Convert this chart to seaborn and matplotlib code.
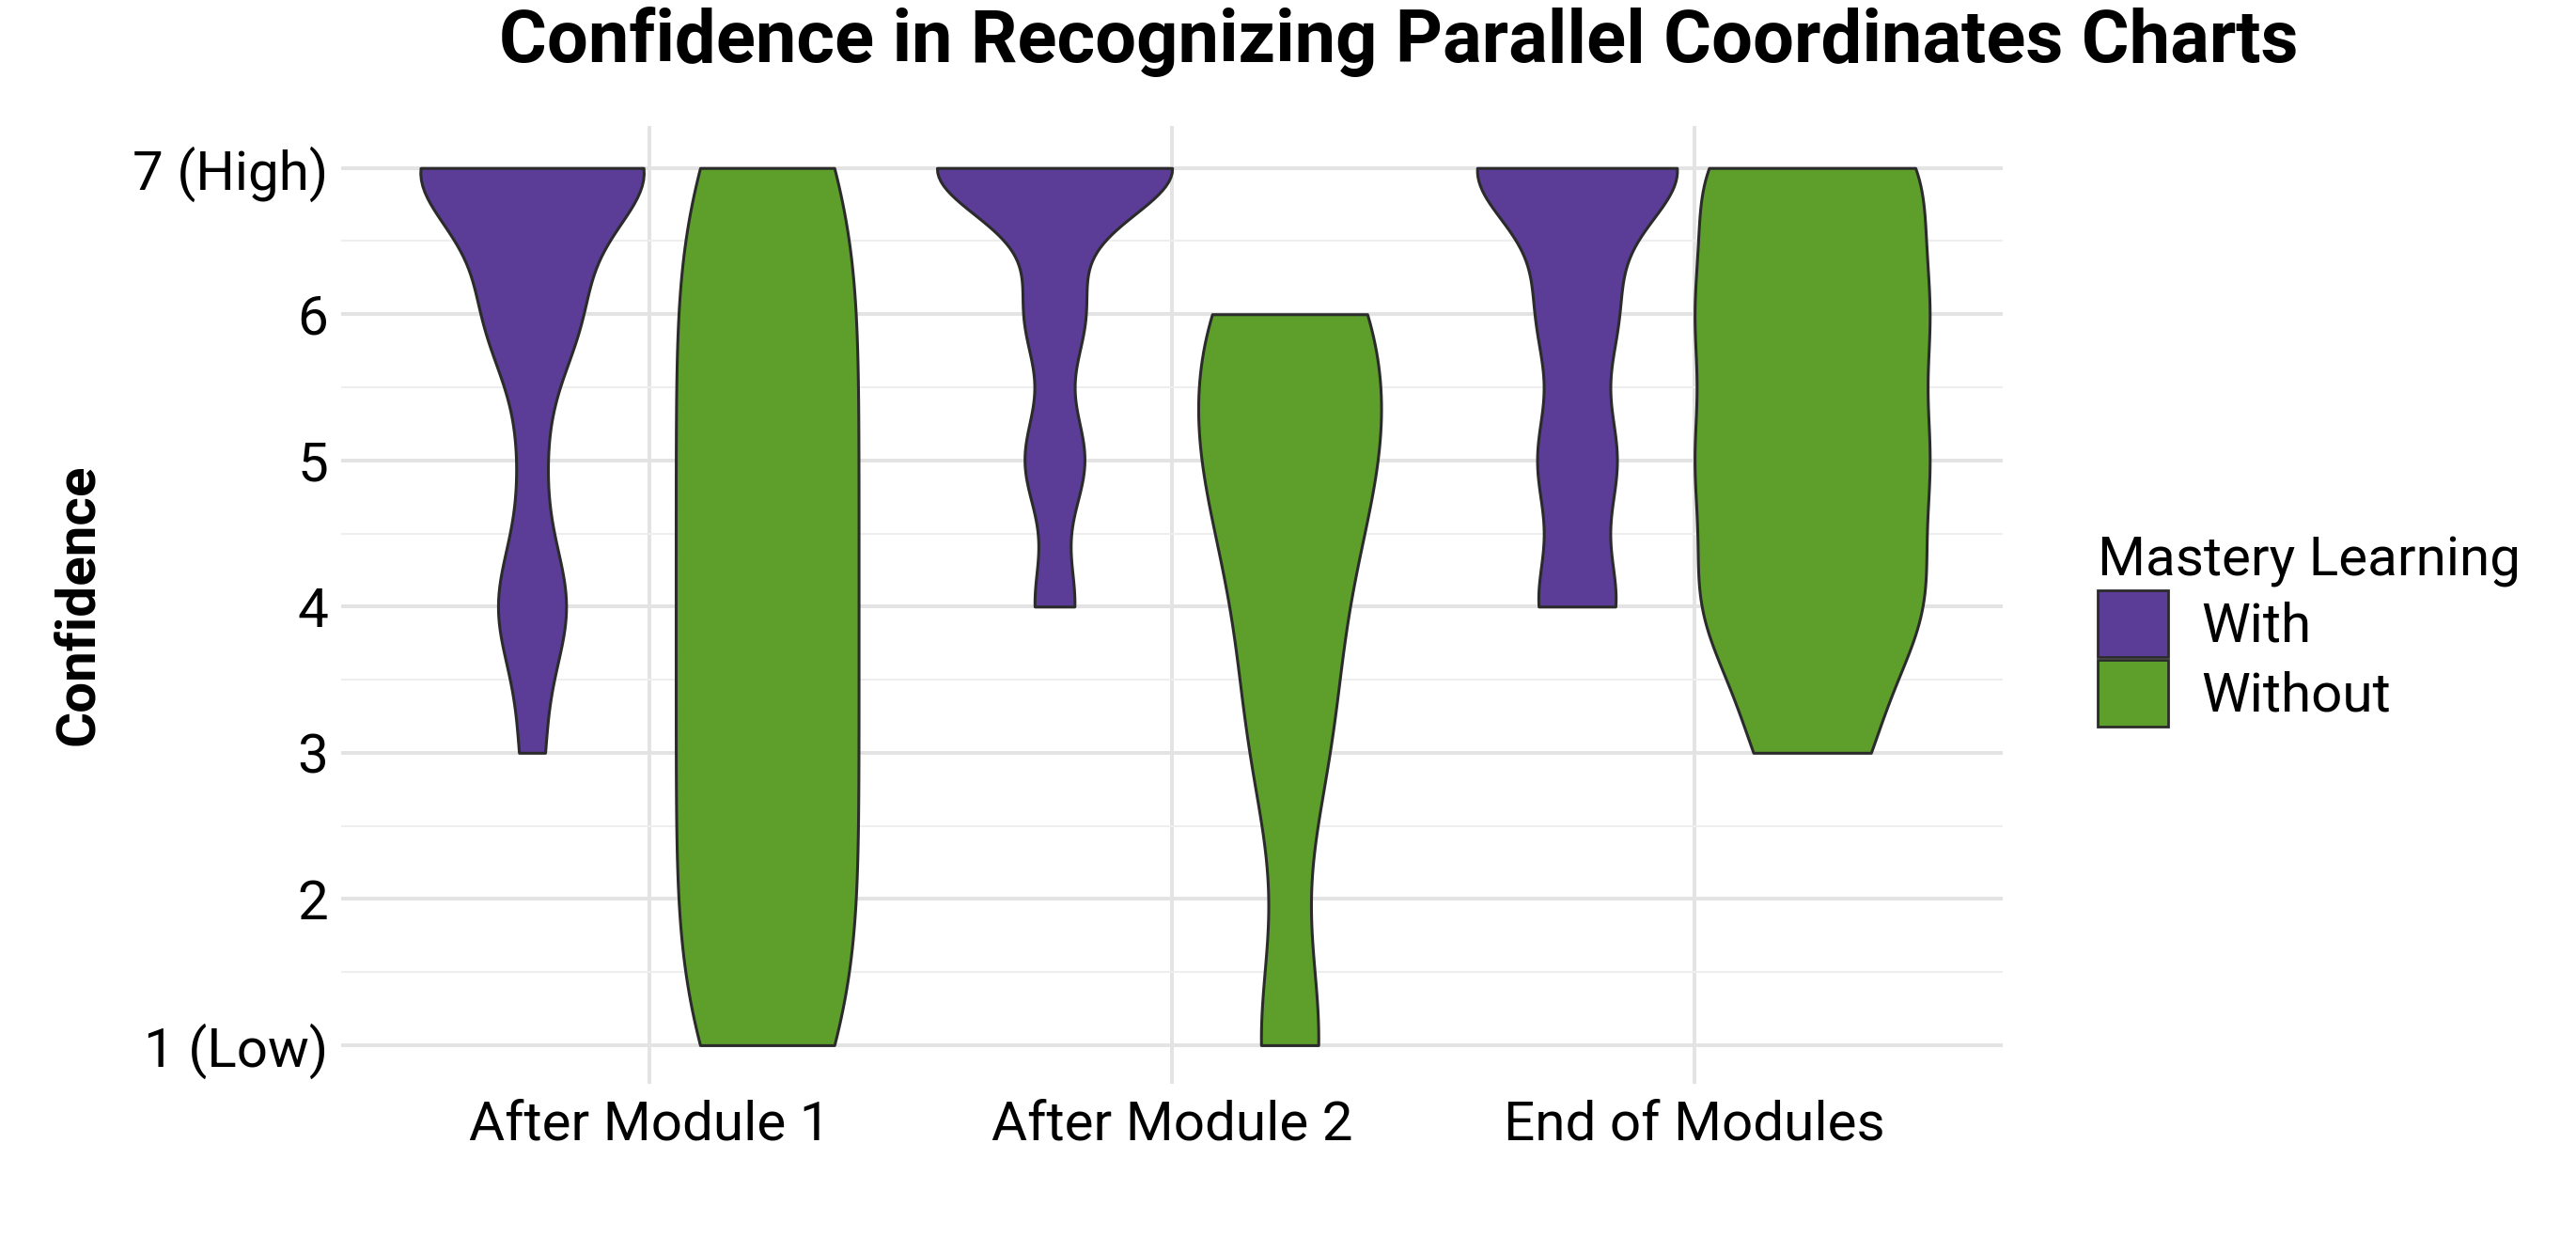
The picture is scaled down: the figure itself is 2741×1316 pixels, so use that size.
import pandas as pd
import matplotlib.pyplot as plt
import seaborn as sns
from matplotlib.patches import Patch

# Response counts per confidence level 1..7
levels = [1, 2, 3, 4, 5, 6, 7]
stages = ["After Module 1", "After Module 2", "End of Modules"]
groups = ["With", "Without"]
counts = {
    ("After Module 1", "With"):    [0, 0, 1, 3, 1, 4, 10],
    ("After Module 1", "Without"): [1, 1, 1, 1, 1, 1, 1],
    ("After Module 2", "With"):    [0, 0, 0, 2, 3, 3, 12],
    ("After Module 2", "Without"): [1, 0, 1, 1, 2, 2, 0],
    ("End of Modules", "With"):    [0, 0, 0, 3, 3, 3, 8],
    ("End of Modules", "Without"): [0, 0, 1, 2, 2, 2, 2],
}
colors = {"With": "#5B3C96", "Without": "#5E9F2C"}

rows = []
for (stage, grp), cnt in counts.items():
    for lv, n in zip(levels, cnt):
        rows += [{"stage": stage, "group": grp, "conf": lv}] * n
df = pd.DataFrame(rows)

sns.set_style("whitegrid")
plt.rcParams['font.family'] = ['Roboto', 'DejaVu Sans']
plt.rcParams['text.color'] = 'black'

fig = plt.figure(figsize=(27.41, 13.16), dpi=100)
ax = fig.add_axes([0.1325, 0.124, 0.645, 0.774])

sns.violinplot(data=df, x="stage", y="conf", hue="group", order=stages,
               hue_order=groups, palette=colors, cut=0, density_norm="count",
               width=0.9, gap=0, inner=None, linewidth=2.2, linecolor="#2b2b2b",
               saturation=1, bw_method="silverman", bw_adjust=0.55,
               legend=False, ax=ax)

ax.set_ylim(0.737, 7.286)
ax.set_xlim(-0.59, 2.59)
ax.set_yticks(levels)
ax.set_yticklabels(["1 (Low)", "2", "3", "4", "5", "6", "7 (High)"], fontsize=42)
ax.set_yticks([1.5, 2.5, 3.5, 4.5, 5.5, 6.5], minor=True)
ax.tick_params(axis='x', labelsize=42, length=0, pad=12, labelcolor='black')
ax.tick_params(axis='y', length=0, pad=10, labelcolor='black')
ax.grid(True, which='major', color='#e3e3e3', linewidth=2.8)
ax.grid(True, which='minor', axis='y', color='#eeeeee', linewidth=1.5)
for s in ax.spines.values():
    s.set_visible(False)
ax.set_xlabel("")
ax.set_ylabel("Confidence", fontsize=42, fontweight='bold', labelpad=22, color='black')
fig.suptitle("Confidence in Recognizing Parallel Coordinates Charts",
             fontsize=56, fontweight='bold', x=0.543, y=0.995, color='black')

handles = [Patch(facecolor=colors[g], edgecolor="#2b2b2b", linewidth=2, label=g) for g in groups]
fig.legend(handles=handles, title="Mastery Learning", loc="center left",
           bbox_to_anchor=(0.795, 0.49), fontsize=42, title_fontsize=42,
           frameon=False, alignment='left', handlelength=1.3, handleheight=1.5,
           labelspacing=0.05, handletextpad=0.6)

plt.savefig("out.png", dpi=100)
